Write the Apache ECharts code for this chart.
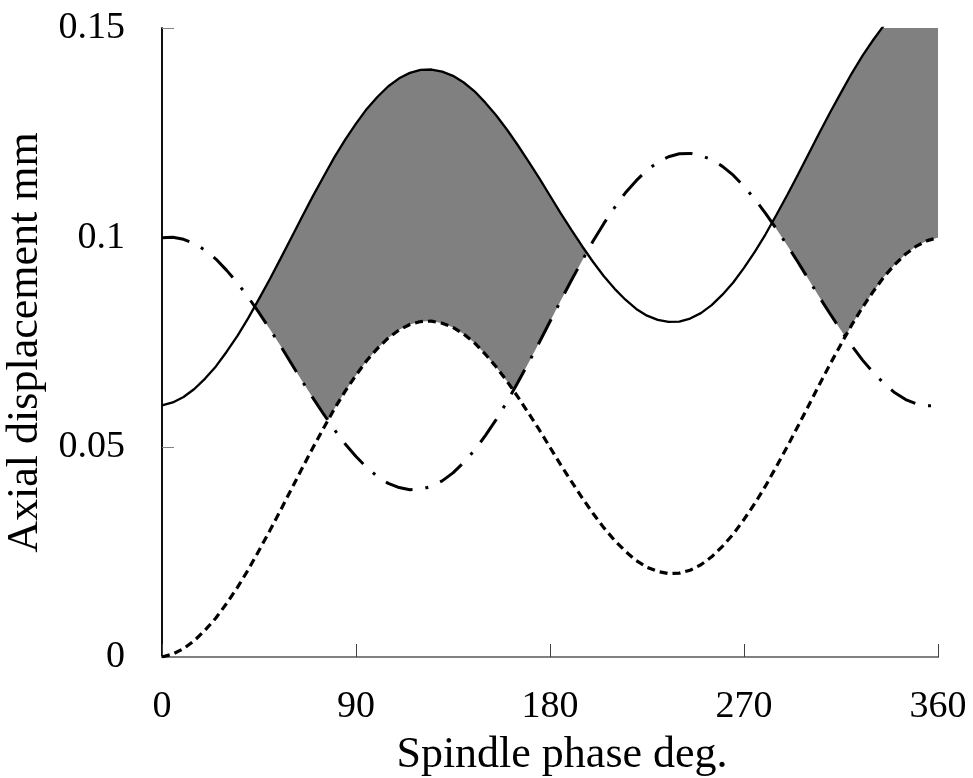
<!DOCTYPE html>
<html><head><meta charset="utf-8">
<script src="https://cdn.jsdelivr.net/npm/echarts@6/dist/echarts.min.js"></script>
<style>html,body{margin:0;padding:0;background:#fff}#c{width:973px;height:778px}</style>
</head><body><div id="c"></div><script>
// Spindle phase (deg)
const phaseDeg = [0,5,10,15,20,25,30,35,40,45,50,55,60,65,70,75,80,85,90,95,100,105,110,115,120,125,130,135,140,145,150,155,160,165,170,175,180,185,190,195,200,205,210,215,220,225,230,235,240,245,250,255,260,265,270,275,280,285,290,295,300,305,310,315,320,325,330,335,340,345,350,355,360];
// Solid curve (mm)
const solidLine = [0.0600,0.0607,0.0620,0.0639,0.0664,0.0693,0.0728,0.0766,0.0808,0.0854,
0.0901,0.0950,0.1000,0.1050,0.1099,0.1146,0.1192,0.1234,0.1272,0.1307,
0.1336,0.1361,0.1380,0.1393,0.1400,0.1401,0.1396,0.1386,0.1370,0.1349,
0.1322,0.1292,0.1258,0.1221,0.1182,0.1142,0.1100,0.1058,0.1018,0.0979,
0.0942,0.0908,0.0878,0.0852,0.0830,0.0814,0.0804,0.0799,0.0800,0.0807,
0.0820,0.0839,0.0864,0.0893,0.0928,0.0966,0.1008,0.1054,0.1101,0.1150,
0.1200,0.1250,0.1299,0.1346,0.1392,0.1434,0.1472,0.1507,0.1536,0.1561,
0.1580,0.1593,0.1600];
// Short-dashed curve (mm)
const dashedLine = [0.0000,0.0007,0.0020,0.0039,0.0064,0.0093,0.0128,0.0166,0.0208,0.0254,
0.0301,0.0350,0.0400,0.0450,0.0499,0.0546,0.0592,0.0634,0.0672,0.0707,
0.0736,0.0761,0.0780,0.0793,0.0800,0.0801,0.0796,0.0786,0.0770,0.0749,
0.0722,0.0692,0.0658,0.0621,0.0582,0.0542,0.0500,0.0458,0.0418,0.0379,
0.0342,0.0308,0.0278,0.0252,0.0230,0.0214,0.0204,0.0199,0.0200,0.0207,
0.0220,0.0239,0.0264,0.0293,0.0328,0.0366,0.0408,0.0454,0.0501,0.0550,
0.0600,0.0650,0.0699,0.0746,0.0792,0.0834,0.0872,0.0907,0.0936,0.0961,
0.0980,0.0993,0.1000];
// Dash-dot curve (mm)
const dashDotLine = [0.1000,0.1001,0.0996,0.0986,0.0970,0.0949,0.0922,0.0892,0.0858,0.0821,
0.0782,0.0742,0.0700,0.0658,0.0618,0.0579,0.0542,0.0508,0.0478,0.0452,
0.0430,0.0414,0.0404,0.0399,0.0400,0.0407,0.0420,0.0439,0.0464,0.0493,
0.0528,0.0566,0.0608,0.0654,0.0701,0.0750,0.0800,0.0850,0.0899,0.0946,
0.0992,0.1034,0.1072,0.1107,0.1136,0.1161,0.1180,0.1193,0.1200,0.1201,
0.1196,0.1186,0.1170,0.1149,0.1122,0.1092,0.1058,0.1021,0.0982,0.0942,
0.0900,0.0858,0.0818,0.0779,0.0742,0.0708,0.0678,0.0652,0.0630,0.0614,
0.0604,0.0599,0.0600];
const xTickLabels = ['0','90','180','270','360'];
const yTickLabels = ['0','0.05','0.1','0.15'];
const X_MAX = 360, Y_MAX = 0.15;

// Shaded region: between solid curve (upper) and the higher of the two broken curves (lower)
function sample(i, f) {
  const L = a => (f === 0 ? a[i] : a[i] + (a[i + 1] - a[i]) * f);
  return { x: L(phaseDeg), up: L(solidLine), lo: Math.max(L(dashedLine), L(dashDotLine)) };
}
function buildPolys() {
  const SUB = 20, pts = [];
  for (let i = 0; i < phaseDeg.length - 1; i++) for (let j = 0; j < SUB; j++) pts.push(sample(i, j / SUB));
  pts.push(sample(phaseDeg.length - 1, 0));
  const polys = []; let cur = null;
  const cross = (q, p) => {
    const gq = q.up - q.lo, gp = p.up - p.lo, t = gq / (gq - gp);
    return [q.x + (p.x - q.x) * t, q.up + (p.up - q.up) * t];
  };
  for (let k = 0; k < pts.length; k++) {
    const p = pts[k], g = p.up - p.lo;
    if (g > 0) {
      if (!cur) {
        cur = { up: [], lo: [] };
        if (k > 0) { const c = cross(pts[k - 1], p); cur.up.push(c); cur.lo.push(c); }
      }
      cur.up.push([p.x, Math.min(p.up, Y_MAX)]); cur.lo.push([p.x, p.lo]);
    } else if (cur) {
      const c = cross(pts[k - 1], p); cur.up.push(c); cur.lo.push(c);
      polys.push(cur); cur = null;
    }
  }
  if (cur) polys.push(cur);
  return polys;
}
const polys = buildPolys();

const serif = 'Liberation Serif';
const chart = echarts.init(document.getElementById('c'));
chart.setOption({
  animation: false,
  backgroundColor: '#fff',
  grid: { left: 162, right: 35, top: 28, bottom: 121, containLabel: false, outerBoundsMode: 'none' },
  xAxis: [{
    type: 'value', min: 0, max: X_MAX, interval: 90,
    axisLine: { show: true, lineStyle: { color: '#404040', width: 2 } },
    axisTick: { show: true, inside: true, length: 13, lineStyle: { color: '#404040', width: 1 } },
    splitLine: { show: false },
    axisLabel: { fontFamily: serif, fontSize: 38, color: '#000', margin: 31,
      formatter: v => xTickLabels[Math.round(v / 90)] },
    name: 'Spindle phase deg.', nameLocation: 'middle', nameGap: 76,
    nameTextStyle: { fontFamily: serif, fontSize: 44, color: '#000', padding: [0, 0, 0, 24] }
  }, {
    type: 'value', position: 'top', min: 0, max: X_MAX,
    axisLine: { show: true, lineStyle: { color: '#808080', width: 2 } },
    axisTick: { show: false }, axisLabel: { show: false }, splitLine: { show: false }
  }],
  yAxis: [{
    type: 'value', min: 0, max: Y_MAX, interval: 0.05,
    axisLine: { show: true, lineStyle: { color: '#000', width: 1.5 } },
    axisTick: { show: true, inside: true, length: 12, lineStyle: { color: '#808080', width: 1 } },
    splitLine: { show: false },
    axisLabel: { fontFamily: serif, fontSize: 38, color: '#000', margin: 37,
      formatter: v => yTickLabels[Math.round(v / 0.05)] },
    name: 'Axial displacement mm', nameLocation: 'middle', nameGap: 102, nameRotate: 90,
    nameTextStyle: { fontFamily: serif, fontSize: 44, color: '#000' }
  }, {
    type: 'value', position: 'right', min: 0, max: Y_MAX,
    axisLine: { show: true, lineStyle: { color: '#000', width: 1.5 } },
    axisTick: { show: false }, axisLabel: { show: false }, splitLine: { show: false }
  }],
  series: [
    {
      type: 'custom', coordinateSystem: 'cartesian2d', clip: true, silent: true, z: 1,
      data: [[0, 0]],
      renderItem: (params, api) => ({
        type: 'group',
        children: polys.map(pl => ({
          type: 'polygon',
          shape: { points: pl.up.concat(pl.lo.slice().reverse()).map(v => api.coord(v)) },
          style: { fill: '#808080', stroke: null }
        }))
      })
    },
    {
      type: 'line', name: 'solid', z: 3, clip: true, symbol: 'none', silent: true,
      data: phaseDeg.map((x, i) => [x, solidLine[i]]),
      lineStyle: { color: '#000', width: 2.3 }
    },
    {
      type: 'line', name: 'dashed', z: 3, clip: true, symbol: 'none', silent: true,
      data: phaseDeg.map((x, i) => [x, dashedLine[i]]),
      lineStyle: { color: '#000', width: 3.2, type: [8, 5], cap: 'butt' }
    },
    {
      type: 'line', name: 'dashdot', z: 3, clip: true, symbol: 'none', silent: true,
      data: phaseDeg.map((x, i) => [x, dashDotLine[i]]),
      lineStyle: { color: '#000', width: 3, type: [28, 13, 3, 13], cap: 'butt' }
    }
  ]
});
</script></body></html>
